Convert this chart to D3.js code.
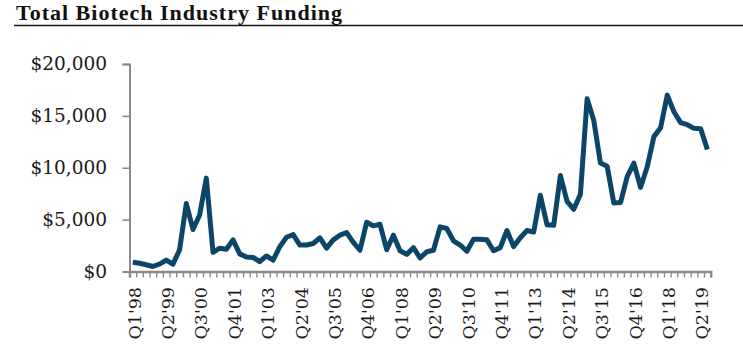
<!DOCTYPE html>
<html>
<head>
<meta charset="utf-8">
<script src="https://cdn.jsdelivr.net/npm/d3@7"></script>
<style>
  html, body { margin: 0; padding: 0; background: #fff; }
  svg { display: block; }
</style>
</head>
<body>
<svg id="chart" width="743" height="356"></svg>
<script>
const title = "Total Biotech Industry Funding";

const categories = [
  "Q1'98","Q2'98","Q3'98","Q4'98","Q1'99","Q2'99","Q3'99","Q4'99",
  "Q1'00","Q2'00","Q3'00","Q4'00","Q1'01","Q2'01","Q3'01","Q4'01",
  "Q1'02","Q2'02","Q3'02","Q4'02","Q1'03","Q2'03","Q3'03","Q4'03",
  "Q1'04","Q2'04","Q3'04","Q4'04","Q1'05","Q2'05","Q3'05","Q4'05",
  "Q1'06","Q2'06","Q3'06","Q4'06","Q1'07","Q2'07","Q3'07","Q4'07",
  "Q1'08","Q2'08","Q3'08","Q4'08","Q1'09","Q2'09","Q3'09","Q4'09",
  "Q1'10","Q2'10","Q3'10","Q4'10","Q1'11","Q2'11","Q3'11","Q4'11",
  "Q1'12","Q2'12","Q3'12","Q4'12","Q1'13","Q2'13","Q3'13","Q4'13",
  "Q1'14","Q2'14","Q3'14","Q4'14","Q1'15","Q2'15","Q3'15","Q4'15",
  "Q1'16","Q2'16","Q3'16","Q4'16","Q1'17","Q2'17","Q3'17","Q4'17",
  "Q1'18","Q2'18","Q3'18","Q4'18","Q1'19","Q2'19","Q3'19"
];

const funding = [
  900, 800, 650, 480, 720, 1100, 700, 2100,
  6550, 4050, 5450, 9000, 1850, 2250, 2150, 3050,
  1700, 1400, 1350, 950, 1500, 1100, 2400, 3300,
  3550, 2550, 2550, 2700, 3250, 2250, 3050, 3500,
  3750, 2800, 2050, 4750, 4400, 4550, 2100, 3500,
  2000, 1650, 2300, 1300, 1900, 2050, 4300, 4150,
  2950, 2550, 1950, 3100, 3100, 3050, 2000, 2300,
  3950, 2400, 3250, 3950, 3800, 7350, 4500, 4450,
  9250, 6750, 6000, 7450, 16650, 14550, 10450, 10150,
  6600, 6650, 9150, 10450, 8100, 10100, 13000, 13850,
  17000, 15400, 14350, 14150, 13800, 13750, 11750
];

const xTickLabels = [
  "Q1'98","Q2'99","Q3'00","Q4'01","Q1'03","Q2'04","Q3'05","Q4'06","Q1'08",
  "Q2'09","Q3'10","Q4'11","Q1'13","Q2'14","Q3'15","Q4'16","Q1'18","Q2'19"
];

const yTicks = [0, 5000, 10000, 15000, 20000];

const svg = d3.select("#chart");
const serif = "'DejaVu Serif', serif";

// Title
svg.append("text")
  .attr("x", 16).attr("y", 19.5)
  .attr("font-family", "'Liberation Serif', serif")
  .attr("font-weight", "bold")
  .attr("font-size", 22)
  .attr("textLength", 326)
  .attr("lengthAdjust", "spacing")
  .attr("fill", "#111")
  .text(title);

svg.append("line")
  .attr("x1", 14).attr("x2", 743)
  .attr("y1", 25.5).attr("y2", 25.5)
  .attr("stroke", "#111").attr("stroke-width", 1.5);

// Scales
const x0 = 129.5, x1 = 710.7, yBottom = 271.5, yTop = 64;
const x = d3.scaleBand().domain(categories).range([x0, x1]).padding(0);
const xEdge = d3.scaleLinear().domain([0, categories.length]).range([x0, x1]);
const y = d3.scaleLinear().domain([0, 20000]).range([yBottom, yTop]);

const axisColor = "#8a8a8a";

// Y axis
const gy = svg.append("g").attr("transform", `translate(${x0},0)`)
  .call(d3.axisLeft(y).tickValues(yTicks).tickSize(7).tickPadding(15.5)
    .tickFormat(d => "$" + d3.format(",")(d)));
gy.select(".domain").attr("stroke", axisColor).attr("stroke-width", 2);
gy.selectAll(".tick line").attr("stroke", axisColor).attr("stroke-width", 1.6);
gy.selectAll(".tick text")
  .attr("font-family", serif).attr("font-size", 18.5).attr("fill", "#1b1b1b");

// X axis tick marks (between categories)
const gxt = svg.append("g").attr("transform", `translate(0,${yBottom})`)
  .call(d3.axisBottom(xEdge).tickValues(d3.range(categories.length + 1))
    .tickSize(6).tickFormat(""));
gxt.select(".domain").attr("stroke", axisColor).attr("stroke-width", 2.5);
gxt.selectAll(".tick line").attr("stroke", axisColor).attr("stroke-width", 1.4);

// X axis labels
const gx = svg.append("g").attr("transform", `translate(0,${yBottom})`)
  .call(d3.axisBottom(x).tickValues(xTickLabels).tickSize(0));
gx.select(".domain").remove();
gx.selectAll(".tick text")
  .attr("font-family", serif).attr("font-size", 17.5).attr("fill", "#1b1b1b")
  .attr("text-anchor", "end")
  .attr("transform", "translate(1.5,15.5) rotate(-90)")
  .attr("x", 0).attr("y", 0).attr("dy", "0.36em");

// Line
const line = d3.line()
  .x((d, i) => x(categories[i]) + x.bandwidth() / 2)
  .y(d => y(d));

svg.append("path")
  .datum(funding)
  .attr("d", line)
  .attr("fill", "none")
  .attr("stroke", "#0b4668")
  .attr("stroke-width", 5)
  .attr("stroke-linejoin", "round")
  .attr("stroke-linecap", "butt");
</script>
</body>
</html>
